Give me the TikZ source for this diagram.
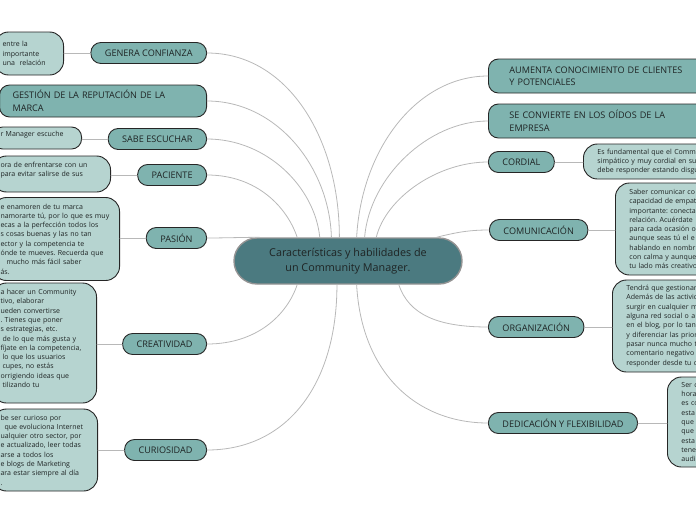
\documentclass[tikz,border=0pt]{standalone}
\usepackage{fontspec}
\setmainfont{Open Sans}
\usepackage{xcolor}
\definecolor{rootfill}{HTML}{4B7A80}
\definecolor{branchfill}{HTML}{7FB3AF}
\definecolor{notefill}{HTML}{B6D4D0}
\definecolor{linkgray}{HTML}{B8B8B8}
\definecolor{inkdark}{HTML}{1E2424}
\frenchspacing

\begin{document}
\begin{tikzpicture}[
    x=1pt, y=-1pt,
    line cap=round,
    text=inkdark,
    root/.style={draw=gray!85, line width=1.4pt, fill=rootfill, rounded corners=23pt,
      align=center, minimum width=228pt, minimum height=46pt,
      font=\fontsize{10.8}{14.5}\selectfont},
    branch/.style={draw=black!85, line width=0.9pt, fill=branchfill, rounded corners=10pt,
      minimum height=21pt, inner xsep=14pt, font=\fontsize{9.1}{12.5}\selectfont},
    note/.style={draw=black!85, line width=0.9pt, fill=notefill, rounded corners=14pt,
      align=left, inner xsep=8pt, font=\fontsize{7}{9.3}\selectfont},
    link/.style={draw=linkgray, line width=0.8pt}
]
  % Frame of the picture
  \useasboundingbox (0,0) rectangle (696,520);
  \clip (0,0) rectangle (696,520);

  % Central topic
  \node[root] (root) at (348,261) {Características y habilidades de\\un Community Manager.};

  % Left branches
  \node[branch, anchor=east] (confianza) at (207,53) {GENERA CONFIANZA};
  \node[branch, anchor=east, text width=181pt, inner xsep=13pt, align=left, minimum height=32pt]
    (reputacion) at (207,101) {GESTIÓN DE LA REPUTACIÓN DE LA\\MARCA};
  \node[branch, anchor=east] (escuchar) at (207,139) {SABE ESCUCHAR};
  \node[branch, anchor=east] (paciente) at (207,175) {PACIENTE};
  \node[branch, anchor=east] (pasion) at (207,238) {PASIÓN};
  \node[branch, anchor=east] (creatividad) at (207,344) {CREATIVIDAD};
  \node[branch, anchor=east] (curiosidad) at (207,450) {CURIOSIDAD};

  % Right branches
  \node[branch, anchor=west, text width=200pt, inner xsep=21pt, align=left, minimum height=34pt]
    (conocimiento) at (488,76) {AUMENTA CONOCIMIENTO DE CLIENTES\\Y POTENCIALES};
  \node[branch, anchor=west, text width=200pt, inner xsep=21pt, align=left, minimum height=34pt]
    (oidos) at (488,121) {SE CONVIERTE EN LOS OÍDOS DE LA\\EMPRESA};
  \node[branch, anchor=west] (cordial) at (488,162) {CORDIAL};
  \node[branch, anchor=west] (comunicacion) at (489,230) {COMUNICACIÓN};
  \node[branch, anchor=west] (organizacion) at (488,327) {ORGANIZACIÓN};
  \node[branch, anchor=west] (dedicacion) at (488,423) {DEDICACIÓN Y FLEXIBILIDAD};

  % Notes on the left (cut by the frame)
  \node[note, anchor=east, text width=53pt, minimum height=43pt] (n-confianza) at (64,53.5)
    {entre la\\ importante\\ una\ \ relación};
  \node[note, anchor=east, text width=73pt, minimum height=22pt, rounded corners=10pt] (n-escuchar) at (82,138)
    {r Manager escuche\\\mbox{}};
  \node[note, anchor=east, text width=102pt, minimum height=36pt] (n-paciente) at (111,174)
    {ora de enfrentarse con un\\para evitar salirse de sus\\\mbox{}};
  \node[note, anchor=east, text width=111pt, minimum height=83pt] (n-pasion) at (120,239)
    {e enamoren de tu marca\\namorarte tú, por lo que es muy\\ecas a la perfección todos los\\s cosas buenas y las no tan\\ector y la competencia te\\ónde te mueves. Recuerda que\\\hspace*{6pt}mucho más fácil saber\\ás.};
  \node[note, anchor=east, text width=88pt, minimum height=120pt] (n-creatividad) at (97,343)
    {a hacer un Community\\tivo, elaborar\\ueden convertirse\\. Tienes que poner\\s estrategias, etc.\\\hspace*{2pt}de lo que más gusta y\\fíjate en la competencia,\\\hspace*{2pt}lo que los usuarios\\\hspace*{2pt}cupes, no estás\\orrigiendo ideas que\\\hspace*{2pt}tilizando tu\\\mbox{}};
  \node[note, anchor=east, text width=89pt, minimum height=82pt] (n-curiosidad) at (98,450)
    {be ser curioso por\\\hspace*{4pt}que evoluciona Internet\\ualquier otro sector, por\\e actualizado, leer todas\\arse a todos los\\e blogs de Marketing\\ara estar siempre al día\\.};

  % Notes on the right (cut by the frame)
  \node[note, anchor=west, text width=120pt, inner xsep=14pt, minimum height=35pt] (n-cordial) at (583,161.5)
    {Es fundamental que el Comm\\simpático y muy cordial en su\\debe responder estando disgu};
  \node[note, anchor=west, text width=120pt, inner xsep=14pt, minimum height=92pt] (n-comunicacion) at (615,229)
    {Saber comunicar co\\capacidad de empat\\importante: conecta\\relación. Acuérdate\\para cada ocasión o\\aunque seas tú el e\\hablando en nombr\\con calma y aunque\\tu lado más creativo};
  \node[note, anchor=west, text width=120pt, inner xsep=14pt, minimum height=92pt] (n-organizacion) at (612,326)
    {Tendrá que gestionar\\Además de las activid\\surgir en cualquier m\\alguna red social o a\\en el blog, por lo tan\\y diferenciar las prior\\pasar nunca mucho t\\comentario negativo\\responder desde tu c};
  \node[note, anchor=west, text width=120pt, inner xsep=14pt, minimum height=90pt] (n-dedicacion) at (667,422)
    {Ser c\\hora\\es co\\esta\\que\\que\\esta\\tene\\audi};

  % Links from the centre to the branches
  \draw[link] (root.110) .. controls +(0,-100) and +(80,0) .. (confianza.east);
  \draw[link] (root.125) .. controls +(-2,-70) and +(70,0) .. (reputacion.east);
  \draw[link] (root.140) .. controls +(-5,-50) and +(60,0) .. (escuchar.east);
  \draw[link] (root.155) .. controls +(-10,-30) and +(50,0) .. (paciente.east);
  \draw[link] (root.165) .. controls +(-15,0) and +(15,0) .. (pasion.east);
  \draw[link] (root.205) .. controls +(-10,30) and +(50,0) .. (creatividad.east);
  \draw[link] (root.245) .. controls +(0,100) and +(80,0) .. (curiosidad.east);
  \draw[link] (root.70) .. controls +(5,-90) and +(-70,0) .. (conocimiento.west);
  \draw[link] (root.55) .. controls +(5,-60) and +(-60,0) .. (oidos.west);
  \draw[link] (root.40) .. controls +(10,-40) and +(-50,0) .. (cordial.west);
  \draw[link] (root.15) .. controls +(20,-5) and +(-20,0) .. (comunicacion.west);
  \draw[link] (root.-25) .. controls +(10,30) and +(-50,0) .. (organizacion.west);
  \draw[link] (root.-70) .. controls +(5,90) and +(-70,0) .. (dedicacion.west);

  % Links from the branches to their notes
  \draw[link] (confianza.west) -- (confianza.west -| n-confianza.east);
  \draw[link] (escuchar.west) -- (escuchar.west -| n-escuchar.east);
  \draw[link] (paciente.west) -- (paciente.west -| n-paciente.east);
  \draw[link] (pasion.west) -- (pasion.west -| n-pasion.east);
  \draw[link] (creatividad.west) -- (creatividad.west -| n-creatividad.east);
  \draw[link] (curiosidad.west) -- (curiosidad.west -| n-curiosidad.east);
  \draw[link] (cordial.east) -- (cordial.east -| n-cordial.west);
  \draw[link] (comunicacion.east) -- (comunicacion.east -| n-comunicacion.west);
  \draw[link] (organizacion.east) -- (organizacion.east -| n-organizacion.west);
  \draw[link] (dedicacion.east) -- (dedicacion.east -| n-dedicacion.west);
\end{tikzpicture}
\end{document}
